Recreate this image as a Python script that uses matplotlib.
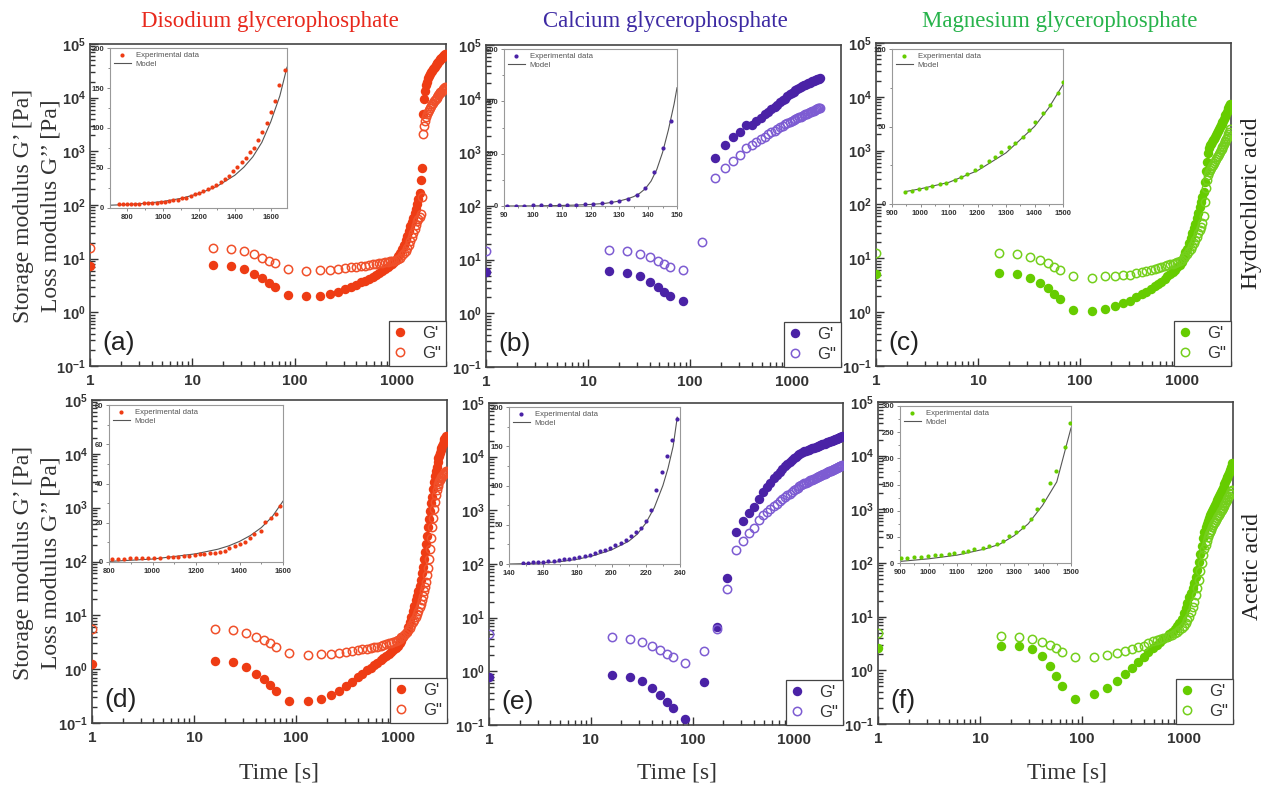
import matplotlib
matplotlib.use('Agg')
import matplotlib.pyplot as plt
import numpy as np
from matplotlib.ticker import FuncFormatter, LogLocator, NullFormatter, AutoMinorLocator, FixedLocator

# ---------------- data ----------------
# sampling times of the main curves [s]
times = [1, 16, 24, 32, 40, 48, 56, 64, 85, 130, 175, 220, 265, 310, 355, 400, 445, 490,
         535, 580, 625, 670, 715, 760, 805, 850, 895, 940, 985, 1030, 1075, 1120, 1165,
         1210, 1255, 1300, 1345, 1390, 1435, 1480, 1525, 1570, 1615, 1660, 1705, 1750,
         1795, 1840, 1885, 1930, 1975, 2020, 2065, 2110, 2155, 2200, 2245, 2290, 2335,
         2380, 2425, 2470, 2515, 2560, 2605, 2650, 2695, 2740, 2785, 2830, 2875, 2920]

# (a) disodium / HCl
a_gp = [7.2, 7.6, 7.2, 6.3, 5.2, 4.3, 3.5, 3.0, 2.1,
        2.0, 2.05, 2.2, 2.4, 2.7, 3.0, 3.3,
        3.6, 3.9, 4.2, 4.6, 5.0, 5.4, 5.9, 6.4, 6.9, 7.5, 8.1, 8.7, 9.4,
        11, 13, 15, 18, 22, 27, 33, 40, 48, 58, 70, 85, 105, 130, 170, 290, 490,
        5000, 9600, 13500, 17000, 20000, 23000, 25500, 28000, 30000, 32000, 34000, 36000,
        38000, 40000, 42000, 44000, 46000, 48000, 50000, 52000, 54000, 56000, 58000,
        60000, 62000, 64000]
a_gpp = [15.8, 15.6, 15, 13.7, 12, 10.3, 9.2, 8.2, 6.4,
         6.0, 6.1, 6.2, 6.4, 6.7, 6.9, 7.0,
         7.2, 7.4, 7.6, 7.8, 8.0, 8.2, 8.4, 8.6, 8.8, 9.0, 9.1, 9.2, 9.3,
         9.8, 10.5, 11.5, 12.5, 14, 16, 18, 21, 25, 30, 36, 43, 50, 55, 60, 69, 141,
         2100, 3000, 3700, 4300, 5000, 5500, 6000, 6500, 7000, 7500, 8000, 8500, 9000,
         9500, 10000, 10500, 11000, 11500, 12000, 12500, 13000, 13500, 14000, 14500,
         15000, 15500]

# (b) calcium / HCl  (no G' point at 130 s, run ends at 1885 s)
b_gp = [6.0, 6.1, 5.6, 4.9, 3.8, 3.1, 2.5, 2.1, 1.7,
        np.nan, 780, 1370, 1900, 2370, 3250, 3300,
        3900, 4400, 5100, 5700, 6300, 7000, 7700, 8700, 9400, 10000, 11000, 12000,
        12800, 13500, 14200, 15000, 15700, 16300, 17000, 17600, 18200, 18800, 19400,
        20000, 20500, 21000, 21500, 22000, 22400, 22800, 23200, 23500, 23800]
b_gpp = [14.3, 15, 14.3, 12.9, 11, 9.5, 8.3, 7.2, 6.5,
         21, 330, 500, 690, 900, 1200, 1370,
         1550, 1750, 1950, 2150, 2350, 2550, 2750, 2950, 3150, 3350, 3550, 3700, 3900,
         4050, 4200, 4350, 4500, 4650, 4800, 4950, 5100, 5250, 5400, 5550, 5700, 5850,
         6000, 6150, 6300, 6450, 6600, 6700, 6800]

# (c) magnesium / HCl
c_gp = [5.1, 5.4, 5.1, 4.4, 3.5, 2.8, 2.2, 1.76, 1.1,
        1.05, 1.16, 1.29, 1.46, 1.64, 1.89, 2.14,
        2.4, 2.7, 3.0, 3.35, 3.7, 4.1, 4.6, 5.1, 5.6, 6.2, 6.9, 7.6, 8.6,
        11, 13, 15, 19, 24, 30, 36, 44, 55, 70, 88, 110, 140, 170, 260, 420, 620, 900,
        1100, 1250, 1350, 1450, 1560, 1680, 1820, 1980, 2150, 2350, 2550, 2750, 2950,
        3150, 3350, 3600, 3900, 4200, 4550, 4900, 5300, 5700, 6200, 6800, 7500]
c_gpp = [12.8, 12.3, 11.9, 10.6, 9.4, 8.1, 7.0, 6.2, 4.6,
         4.4, 4.6, 4.6, 4.8, 5.0, 5.3, 5.5,
         5.8, 6.0, 6.3, 6.6, 6.9, 7.1, 7.4, 7.7, 8.0, 8.3, 8.6, 8.9, 9.2,
         10, 11, 12, 13.5, 15, 17, 19, 22, 25, 29, 33, 39, 46, 60, 110, 200, 290, 350,
         400, 440, 480, 510, 550, 590, 640, 690, 750, 810, 870, 940, 1010, 1080, 1160,
         1240, 1330, 1420, 1520, 1620, 1730, 1840, 2000, 2200, 2500]

# (d) disodium / acetic
d_gp = [1.27, 1.41, 1.35, 1.11, 0.83, 0.66, 0.50, 0.39, 0.254,
        0.254, 0.28, 0.33, 0.40, 0.49, 0.59, 0.71,
        0.82, 0.95, 1.07, 1.2, 1.32, 1.45, 1.6, 1.75, 1.9, 2.1, 2.3, 2.5, 2.75, 3.0,
        3.4, 3.9, 4.5,
        5.0, 6.0, 7.5, 9.5, 12, 15, 19, 23, 28, 35, 45, 60, 80, 110, 150, 210, 300, 430,
        620, 850, 1200, 1600, 2200, 3000, 3800, 4800, 5800, 7000, 8200, 9300, 10500,
        11800, 13000, 14200, 15500, 17000, 18500, 20000, 21500]
d_gpp = [5.6, 5.6, 5.3, 4.7, 3.9, 3.5, 3.0, 2.6, 1.96,
         1.82, 1.88, 1.9, 2.0, 2.1, 2.15, 2.26,
         2.33, 2.4, 2.47, 2.55, 2.63, 2.72, 2.8, 2.9, 3.0, 3.1, 3.2, 3.35, 3.5, 3.7,
         3.95, 4.2, 4.5,
         4.8, 5.3, 5.9, 6.6, 7.4, 8.3, 9.3, 10.5, 12, 14, 16, 19, 23, 28, 34, 42, 55, 75,
         110, 170, 270, 430, 650, 950, 1300, 1700, 2100, 2500, 2800, 3100, 3300, 3500,
         3700, 3900, 4100, 4300, 4450, 4600, 4750]

# (e) calcium / acetic
e_gp = [0.78, 0.84, 0.80, 0.65, 0.48, 0.37, 0.27, 0.21, 0.128,
        0.64, 6.8, 54, 390, 630, 900, 1150, 1660, 2230,
        2700, 3300, 4000, 4600, 5200, 5900, 6600, 7300, 8000, 8700, 9400, 10000, 10700,
        11300, 11900, 12300, 12700, 13000, 13300, 13600, 13900, 14200, 14500, 14800,
        15100, 15400, 15700, 16000, 16300, 16600, 16900, 17200, 17500, 17800, 18100,
        18400, 18700, 19000, 19300, 19600, 19900, 20200, 20500, 20800, 21100, 21400,
        21700, 22000, 22300, 22600, 22900, 23200, 23500, 23800]
e_gpp = [4.95, 4.3, 4.05, 3.5, 3.0, 2.5, 2.1, 1.84, 1.42,
         2.4, 6.2, 34, 185, 270, 380, 460, 650, 810,
         950, 1080, 1200, 1330, 1470, 1600, 1750, 1900, 2050, 2200, 2350, 2500, 2650,
         2800, 2950, 3100, 3200, 3300, 3400, 3500, 3600, 3700, 3800, 3900, 4000, 4100,
         4200, 4300, 4400, 4500, 4600, 4700, 4800, 4900, 5000, 5100, 5200, 5300, 5400,
         5500, 5600, 5700, 5800, 5900, 6000, 6100, 6200, 6300, 6400, 6500, 6600, 6700,
         6800, 6900]

# (f) magnesium / acetic
f_gp = [2.6, 2.8, 2.8, 2.45, 1.85, 1.22, 0.79, 0.51, 0.29,
        0.36, 0.46, 0.64, 0.84, 1.12, 1.45, 1.8, 2.16, 2.57,
        3.0, 3.4, 3.8, 4.2, 4.7, 5.2, 5.8, 6.6, 7.7, 9.2, 11.5, 14.5, 18, 23, 28, 34,
        43, 55, 75, 105, 150, 210, 290, 380, 460, 540, 610, 690, 780, 860, 940, 1020,
        1110, 1220, 1340, 1480, 1620, 1780, 1950, 2130, 2320, 2520, 2740, 2970, 3220,
        3480, 3760, 4060, 4380, 4720, 5100, 5500, 6200, 7200]
f_gpp = [4.9, 4.4, 4.2, 3.9, 3.4, 2.95, 2.57, 2.23, 1.8,
         1.8, 1.93, 2.1, 2.27, 2.5, 2.75, 2.9, 3.2, 3.5,
         3.6, 3.8, 4.0, 4.2, 4.4, 4.6, 4.9, 5.2, 5.6, 6.1, 6.7, 7.5, 8.5, 10, 12, 15,
         19, 25, 34, 48, 70, 100, 140, 180, 220, 260, 300, 340, 380, 420, 460, 500, 545,
         590, 640, 690, 740, 800, 860, 920, 990, 1060, 1140, 1220, 1300, 1390, 1480,
         1580, 1680, 1790, 1900, 2020, 2150, 2300]

# insets: experimental points and model curve
ia_x = [753, 776, 800, 822, 846, 869, 893, 917, 940, 964, 988, 1010, 1034, 1058, 1085,
        1107, 1129, 1153, 1178, 1200, 1224, 1248, 1274, 1297, 1323, 1345, 1367, 1392,
        1414, 1438, 1460, 1483, 1505, 1529, 1553, 1578, 1600, 1624, 1648, 1678]
ia_y = [4.6, 4.6, 5, 5, 5.4, 5.4, 5.8, 5.8, 6.2, 6.7, 7, 7.5, 8.3, 9.6, 10.5, 12, 13,
        15, 17, 19, 21, 24, 26, 29, 32, 36, 40, 46, 51, 57, 63, 70, 75, 85, 95, 106, 120,
        134, 154, 173]
ia_mx = [705, 800, 900, 1000, 1100, 1200, 1300, 1400, 1450, 1500, 1550, 1600, 1650, 1690]
ia_my = [3.5, 4.3, 5.8, 8.2, 12, 18, 27, 41, 51, 64, 82, 108, 140, 176]

ib_x = [91, 94, 97, 100, 103, 106, 109, 112, 115, 118, 121, 124, 127, 130, 133, 136, 139,
        142, 145, 148]
ib_y = [1.3, 1.3, 1.3, 2.6, 2.6, 2.6, 3.9, 5.1, 5.1, 6.4, 7.7, 10, 14, 19, 28, 42, 68,
        129, 222, 324]
ib_mx = [90, 100, 110, 115, 120, 125, 128, 130, 133, 135, 137, 139, 141, 143, 145, 147,
         149, 150]
ib_my = [0, 0.5, 2, 3.5, 6, 10, 15, 19, 28, 36, 48, 66, 95, 140, 205, 290, 390, 452]

ic_x = [947, 971, 994, 1018, 1042, 1069, 1089, 1122, 1142, 1162, 1192, 1213, 1240, 1262,
        1282, 1311, 1332, 1361, 1381, 1400, 1431, 1453, 1482, 1500]
ic_y = [8, 8.7, 9.5, 10.2, 11.3, 12.6, 13.6, 15.8, 17.7, 19.5, 22, 24.7, 27.5, 30.3, 33.8,
        36.6, 39.4, 43.3, 47.6, 52.6, 58.4, 64, 71.4, 79]
ic_mx = [947, 1000, 1100, 1200, 1300, 1400, 1450, 1500]
ic_my = [8, 9.8, 14, 21.5, 33, 50, 62, 77]

id_x = [812, 840, 868, 896, 923, 951, 979, 1005, 1033, 1071, 1096, 1119, 1146, 1169, 1195,
        1218, 1238, 1263, 1286, 1310, 1332, 1351, 1379, 1400, 1427, 1450, 1468, 1500,
        1519, 1545, 1568, 1587]
id_y = [1.7, 1.7, 1.7, 1.9, 1.9, 1.9, 2.0, 2.0, 2.2, 2.4, 2.5, 2.7, 3.1, 3.2, 3.6, 3.9,
        4.1, 4.4, 4.8, 5.3, 5.6, 7.3, 8.1, 9.0, 10.4, 12.4, 14.4, 16, 20.2, 22.2, 24.4,
        28.4]
id_mx = [800, 1000, 1100, 1200, 1300, 1350, 1400, 1450, 1500, 1550, 1600]
id_my = [0.3, 1.5, 2.8, 4.2, 6.5, 8.2, 10.5, 13.5, 17.5, 23, 31]

ie_x = [148.2, 151.1, 154.2, 157.2, 160, 163, 166.1, 169, 172.2, 175.3, 178.2, 181.1,
        184.2, 187.2, 190.3, 193.2, 196.3, 199.3, 202.2, 205.3, 208.2, 211.2, 214,
        217.2, 220.1, 223.2, 226.2, 229.3, 232.2, 235.3, 238.2]
ie_y = [1.3, 1.7, 2.1, 2.6, 3.0, 3.4, 4.3, 5.1, 6.0, 6.8, 8.1, 9.4, 10.7, 12, 14.1, 16.2,
        18.4, 20.9, 23.9, 26.9, 30.3, 35.5, 40.6, 46.2, 54.7, 68.8, 94.9, 117, 137, 158,
        185]
ie_mx = [140, 150, 160, 170, 180, 190, 200, 210, 215, 220, 225, 230, 233, 236, 238.4]
ie_my = [0, 0.5, 1.5, 3, 6, 11, 18, 29, 38, 52, 72, 100, 122, 150, 187]

if_x = [902, 926, 950, 975, 999, 1023, 1043, 1072, 1090, 1121, 1140, 1161, 1191, 1212,
        1240, 1261, 1281, 1308, 1330, 1359, 1380, 1400, 1428, 1448, 1480, 1497]
if_y = [9.7, 10.3, 11, 12.3, 13.5, 14.8, 16.1, 17.4, 18.7, 20.6, 23.2, 25.8, 29, 31.6,
        36.1, 41.9, 51.6, 59.4, 69, 84.5, 104, 121, 153, 176, 221, 268]
if_mx = [900, 1000, 1100, 1200, 1250, 1300, 1350, 1400, 1450, 1500]
if_my = [3, 8, 15, 27, 36, 52, 75, 110, 155, 258]

titles = ['Disodium glycerophosphate', 'Calcium glycerophosphate', 'Magnesium glycerophosphate']
title_colors = ['#e8281c', '#3d2aa3', '#27b34b']
acids = ['Hydrochloric acid', 'Acetic acid']
letters = ['(a)', '(b)', '(c)', '(d)', '(e)', '(f)']

# ---------------- styling ----------------
plt.rcParams['font.family'] = ['Liberation Sans', 'DejaVu Sans']
plt.rcParams['mathtext.fontset'] = 'custom'
plt.rcParams['mathtext.bf'] = 'Liberation Sans:bold'
plt.rcParams['mathtext.rm'] = 'Liberation Sans'
plt.rcParams['axes.unicode_minus'] = False

W, H = 1266, 787
fig = plt.figure(figsize=(W / 100, H / 100), dpi=100)


def px_axes(l, t, r, b):
    return fig.add_axes([l / W, 1 - b / H, (r - l) / W, (b - t) / H])


fill_cols = ['#ee3c14', '#4a22a6', '#66cc00']
open_cols = ['#f0502a', '#7d5cd2', '#74cf1c']
serif = 'Liberation Serif'

main_boxes = [(90, 44, 446, 366), (486, 45, 841, 367), (876, 43, 1231, 366),
              (92, 400, 447, 723), (489, 403, 843, 725), (878, 402, 1233, 724)]
inset_boxes = [(110, 48, 287, 208), (504, 49, 677, 206), (892, 49, 1063, 204),
               (109, 405, 283, 562), (509, 407, 680, 564), (900, 406, 1071, 563)]

series = [(a_gp, a_gpp), (b_gp, b_gpp), (c_gp, c_gpp),
          (d_gp, d_gpp), (e_gp, e_gpp), (f_gp, f_gpp)]
insets = [(ia_x, ia_y, ia_mx, ia_my, (705, 1690), (0, 200), 50, 200),
          (ib_x, ib_y, ib_mx, ib_my, (90, 150), (0, 600), 200, 10),
          (ic_x, ic_y, ic_mx, ic_my, (900, 1500), (0, 100), 50, 100),
          (id_x, id_y, id_mx, id_my, (800, 1600), (0, 80), 20, 200),
          (ie_x, ie_y, ie_mx, ie_my, (140, 240), (0, 200), 50, 20),
          (if_x, if_y, if_mx, if_my, (900, 1500), (0, 300), 50, 100)]

sup = FuncFormatter(lambda v, p: r'$\mathbf{10^{%d}}$' % int(round(np.log10(v))))

for k in range(6):
    col = k % 3
    ax = px_axes(*main_boxes[k])
    gp, gpp = series[k]
    t = times[:len(gp)]
    h1, = ax.plot(t, gp, 'o', ms=6.8, mew=0, color=fill_cols[col], label="G'", zorder=3)
    h2, = ax.plot(times[:len(gpp)], gpp, 'o', ms=6.0, mfc='none', mec=open_cols[col],
                  mew=1.1, label='G"', zorder=3)
    ax.set_xscale('log')
    ax.set_yscale('log')
    ax.set_xlim(1, 3000)
    ax.set_ylim(0.1, 1e5)
    ax.xaxis.set_major_locator(FixedLocator([1, 10, 100, 1000]))
    ax.xaxis.set_major_formatter(FuncFormatter(lambda v, p: '%d' % v))
    ax.xaxis.set_minor_locator(LogLocator(base=10, subs=np.arange(2, 10), numticks=20))
    ax.xaxis.set_minor_formatter(NullFormatter())
    ax.yaxis.set_major_locator(LogLocator(base=10, numticks=10))
    ax.yaxis.set_major_formatter(sup)
    ax.yaxis.set_minor_locator(LogLocator(base=10, subs=np.arange(2, 10), numticks=20))
    ax.yaxis.set_minor_formatter(NullFormatter())
    ax.tick_params(which='both', direction='in', colors='#333', width=1.0)
    ax.tick_params(which='major', length=6, labelsize=11, pad=6)
    ax.tick_params(which='minor', length=3.5)
    ax.tick_params(axis='y', which='major', labelsize=10.5, pad=3)
    for lab in ax.get_xticklabels():
        lab.set_fontweight('bold')
    for sp in ax.spines.values():
        sp.set_color('#444')
        sp.set_linewidth(1.2)
    leg = ax.legend(handles=[h1, h2], loc='lower right', borderaxespad=0, fancybox=False,
                    edgecolor='#444', framealpha=1, fontsize=12, handletextpad=0.9,
                    borderpad=0.3, labelspacing=0.3, handlelength=0.8, markerscale=1.0)
    leg.get_frame().set_linewidth(0.9)
    for txt in leg.get_texts():
        txt.set_color('#333')
    ax.text(0.035, 0.035, letters[k], transform=ax.transAxes, fontsize=19,
            color='#222', ha='left', va='bottom')

    # inset
    ex, ey, mx, my, xl, yl, ystep, xstep = insets[k]
    ins = px_axes(*inset_boxes[k])
    hm, = ins.plot(mx, my, color='#555', lw=0.8, label='Model', zorder=2)
    he, = ins.plot(ex, ey, 'o', ms=3.0, mew=0, color=fill_cols[col],
                   label='Experimental data', zorder=3)
    ins.set_xlim(*xl)
    ins.set_ylim(*yl)
    ins.xaxis.set_major_locator(matplotlib.ticker.MultipleLocator(xstep))
    ins.yaxis.set_major_locator(matplotlib.ticker.MultipleLocator(ystep))
    ins.xaxis.set_minor_locator(AutoMinorLocator(2))
    ins.yaxis.set_minor_locator(AutoMinorLocator(2))
    ins.tick_params(which='both', direction='out', colors='#777', labelcolor='#333',
                    labelsize=5.5, width=0.6, pad=1.5)
    ins.tick_params(which='major', length=2.5)
    ins.tick_params(which='minor', length=1.5)
    for lab in ins.get_xticklabels() + ins.get_yticklabels():
        lab.set_fontweight('bold')
    for sp in ins.spines.values():
        sp.set_color('#999')
        sp.set_linewidth(0.8)
    il = ins.legend(handles=[he, hm], loc='upper left', frameon=False, fontsize=5.6,
                    handlelength=2.2, handletextpad=0.6, labelspacing=0.15,
                    borderaxespad=0.3, borderpad=0.2)
    for txt in il.get_texts():
        txt.set_color('#555')

# column titles
for title, xc, c in zip(titles, [270, 665, 1060], title_colors):
    fig.text(xc / W, 1 - 22 / H, title, fontsize=16.5, family=serif, color=c,
             ha='center', va='center')

# y labels (left column, two lines)
for yc in [206, 563]:
    fig.text(24 / W, 1 - yc / H, 'Storage modulus G\u2019 [Pa]', rotation=90, fontsize=17,
             family=serif, color='#333', ha='center', va='center')
    fig.text(51 / W, 1 - yc / H, 'Loss modulus G\u2019\u2019 [Pa]', rotation=90, fontsize=17,
             family=serif, color='#333', ha='center', va='center')

# acid labels on the right
for acid, yc in zip(acids, [203, 566]):
    fig.text(1252 / W, 1 - yc / H, acid, rotation=90, fontsize=17, family=serif,
             color='#222', ha='center', va='center')

# time labels
for xc in [279, 677, 1067]:
    fig.text(xc / W, 1 - 773 / H, 'Time [s]', fontsize=17, family=serif, color='#333',
             ha='center', va='center')

fig.savefig('out.png', dpi=100)
